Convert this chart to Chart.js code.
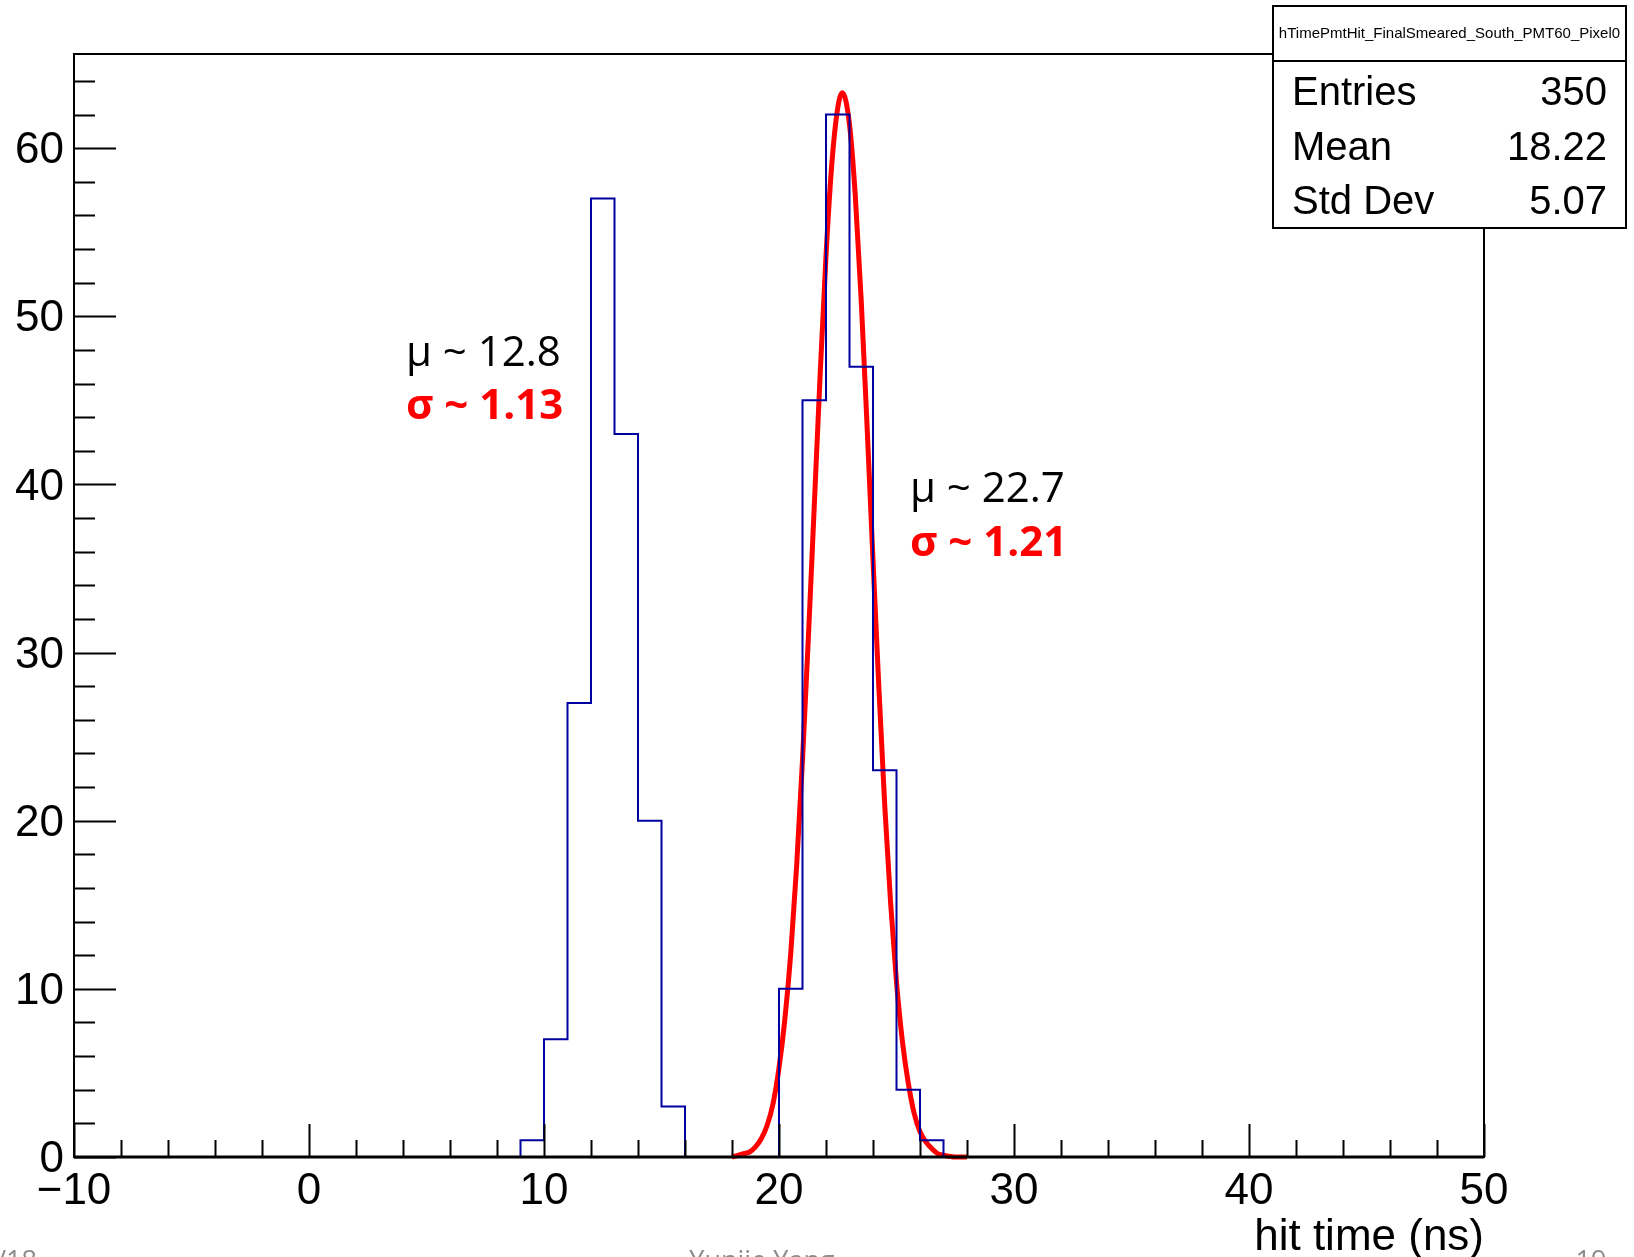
<!DOCTYPE html>
<html>
<head>
<meta charset="utf-8">
<script src="https://cdn.jsdelivr.net/npm/chart.js@4.4.1/dist/chart.umd.min.js"></script>
<style>
  html, body { margin: 0; padding: 0; background: #fff; }
  canvas { display: block; }
</style>
</head>
<body>
<canvas id="hist" width="1634" height="1257"></canvas>
<script>
// histogram: 1 ns bins, only the filled part is listed, the rest is empty
const binStart = 9;
const binWidth = 1;
const counts = [1, 7, 27, 57, 43, 20, 3, 0, 0, 0, 0, 10, 45, 62, 47, 23, 4, 1];
const xMin = -10;
const xMax = 50;
const yMax = 65.6;

// red gaussian fit
const fitX = [18, 18.25, 18.5, 18.75, 19, 19.25, 19.5, 19.75, 20, 20.25, 20.5, 20.75,
              21, 21.25, 21.5, 21.75, 22, 22.25, 22.5, 22.7, 23, 23.25, 23.5, 23.75,
              24, 24.25, 24.5, 24.75, 25, 25.25, 25.5, 25.75, 26, 26.25, 26.5, 26.75,
              27, 27.5, 28];
const fitY = [0.0, 0.1, 0.2, 0.3, 0.6, 1.1, 1.9, 3.2, 5.3, 8.2, 12.1, 17.3,
              23.6, 30.9, 38.7, 46.5, 53.6, 59.1, 62.4, 63.3, 61.4, 57.1, 50.9, 43.4,
              35.5, 27.9, 20.9, 15.1, 10.4, 6.9, 4.4, 2.6, 1.5, 0.9, 0.5, 0.2,
              0.1, 0.0, 0.0];

const statsTitle = "hTimePmtHit_FinalSmeared_South_PMT60_Pixel0";
const statsLabels = ["Entries", "Mean", "Std Dev"];
const statsValues = ["350", "18.22", "5.07"];

const notes = [
    { text: "\u03bc ~ 12.8", color: "#000", bold: false },
    { text: "\u03c3 ~ 1.13", color: "#ff0000", bold: true },
    { text: "\u03bc ~ 22.7", color: "#000", bold: false },
    { text: "\u03c3 ~ 1.21", color: "#ff0000", bold: true }
];

const footer = ["/18", "Yunjie Yang", "19"];

function histPoints() {
    const pts = [];
    for (let e = xMin; e < xMax; e += binWidth) {
        const i = e - binStart;
        const c = (i >= 0 && i < counts.length) ? counts[i] : 0;
        pts.push({ x: e, y: c });
    }
    pts.push({ x: xMax, y: pts[pts.length - 1].y });
    return pts;
}

const fitPoints = fitX.map((x, i) => ({ x: x, y: fitY[i] }));

const ROOT_FONT = "'Liberation Sans', Arial, sans-serif";

const rootFrame = {
    id: "rootFrame",
    afterDatasetsDraw(chart) {
        const { ctx, chartArea: a, scales: { x, y } } = chart;
        ctx.save();
        ctx.strokeStyle = "#000";
        ctx.lineWidth = 2;
        ctx.strokeRect(a.left, a.top, a.right - a.left, a.bottom - a.top);
        ctx.beginPath();
        // y ticks, inside the frame
        for (let v = 0; v <= y.max; v += 2) {
            const py = Math.round(y.getPixelForValue(v)) + 0.5;
            const len = v % 10 === 0 ? 42 : 21;
            ctx.moveTo(a.left, py);
            ctx.lineTo(a.left + len, py);
        }
        // x ticks
        for (let v = x.min; v <= x.max; v += 2) {
            const px = Math.round(x.getPixelForValue(v)) + 0.5;
            const len = v % 10 === 0 ? 33 : 17;
            ctx.moveTo(px, a.bottom);
            ctx.lineTo(px, a.bottom - len);
        }
        ctx.stroke();
        ctx.lineWidth = 3;
        ctx.beginPath();
        ctx.moveTo(a.left, a.bottom);
        ctx.lineTo(a.right, a.bottom);
        ctx.stroke();
        ctx.restore();
    },
    afterDraw(chart) {
        const ctx = chart.ctx;
        ctx.save();
        // stats box
        const bx = 1273, by = 6, bw = 353, bh = 222, titleH = 55;
        ctx.fillStyle = "#fff";
        ctx.fillRect(bx, by, bw, bh);
        ctx.strokeStyle = "#000";
        ctx.lineWidth = 2;
        ctx.strokeRect(bx, by, bw, bh);
        ctx.beginPath();
        ctx.moveTo(bx, by + titleH);
        ctx.lineTo(bx + bw, by + titleH);
        ctx.stroke();
        ctx.fillStyle = "#000";
        ctx.font = "15px " + ROOT_FONT;
        ctx.textAlign = "center";
        ctx.textBaseline = "middle";
        ctx.fillText(statsTitle, bx + bw / 2, by + titleH / 2);
        ctx.font = "40px " + ROOT_FONT;
        ctx.textBaseline = "alphabetic";
        statsLabels.forEach((lab, i) => {
            const base = 105 + i * 54.5;
            ctx.textAlign = "left";
            ctx.fillText(lab, 1292, base);
            ctx.textAlign = "right";
            ctx.fillText(statsValues[i], 1607, base);
        });

        // fit annotations
        const notePos = [[406, 366], [406, 419], [910, 502], [910, 556]];
        ctx.textAlign = "left";
        notes.forEach((n, i) => {
            ctx.font = (n.bold ? "bold " : "") + "42px 'Open Sans', sans-serif";
            ctx.fillStyle = n.color;
            ctx.fillText(n.text, notePos[i][0], notePos[i][1]);
        });

        // slide footer, cut by the bottom edge
        ctx.font = "27px 'Open Sans', sans-serif";
        ctx.fillStyle = "#8c8c8c";
        ctx.textAlign = "right";
        ctx.fillText(footer[0], 37, 1270);
        ctx.textAlign = "center";
        ctx.fillText(footer[1], 762, 1270);
        ctx.fillText(footer[2], 1591, 1270);
        ctx.restore();
    }
};

new Chart(document.getElementById("hist"), {
    type: "scatter",
    data: {
        datasets: [{
            label: "hist",
            data: histPoints(),
            showLine: true,
            stepped: "before",
            borderColor: "#0000a0",
            borderWidth: 2,
            pointRadius: 0,
            fill: false
        }, {
            label: "fit",
            data: fitPoints,
            showLine: true,
            cubicInterpolationMode: "monotone",
            borderColor: "#ff0000",
            borderWidth: 5,
            pointRadius: 0,
            fill: false,
            clip: false
        }]
    },
    options: {
        responsive: false,
        animation: false,
        devicePixelRatio: 1,
        layout: { padding: { left: 0, right: 150, top: 54, bottom: 0 } },
        plugins: {
            legend: { display: false },
            tooltip: { enabled: false },
            title: { display: false }
        },
        scales: {
            x: {
                type: "linear",
                min: xMin,
                max: xMax,
                grid: { display: false, drawTicks: false },
                border: { display: false },
                ticks: {
                    stepSize: 10,
                    color: "#000",
                    padding: 8,
                    maxRotation: 0,
                    autoSkip: false,
                    font: { family: ROOT_FONT, size: 44 },
                    callback: v => v < 0 ? "\u2212" + Math.abs(v) : String(v)
                },
                title: {
                    display: true,
                    text: "hit time (ns)",
                    align: "end",
                    color: "#000",
                    font: { family: ROOT_FONT, size: 44, lineHeight: 0.86 },
                    padding: { top: 0, bottom: 0 }
                },
                afterFit: s => { s.height = 100; }
            },
            y: {
                min: 0,
                max: yMax,
                grid: { display: false, drawTicks: false },
                border: { display: false },
                ticks: {
                    stepSize: 10,
                    includeBounds: false,
                    color: "#000",
                    padding: 10,
                    labelOffset: 3,
                    font: { family: ROOT_FONT, size: 44 }
                },
                afterFit: s => { s.width = 74; }
            }
        }
    },
    plugins: [rootFrame]
});
</script>
</body>
</html>
